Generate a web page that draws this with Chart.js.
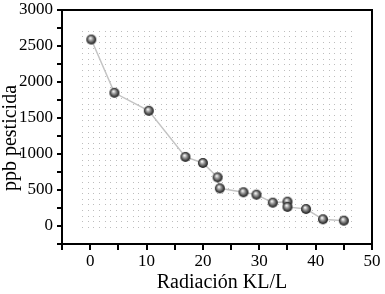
<!DOCTYPE html>
<html>
<head>
<meta charset="utf-8">
<script src="https://cdn.jsdelivr.net/npm/chart.js@4/dist/chart.umd.min.js"></script>
<style>
  html, body { margin: 0; padding: 0; background: #fff; }
  #wrap { width: 385px; height: 294px; }
</style>
</head>
<body>
<div id="wrap"><canvas id="c" width="385" height="294"></canvas></div>
<script>
// Valeurs
const radiacion = [0.2, 4.3, 10.4, 16.9, 20.0, 22.6, 23.0, 27.2, 29.5, 32.4, 35.0, 35.0, 38.3, 41.3, 45.0];
const pesticida = [2590, 1850, 1600, 960, 875, 676, 523, 468, 435, 324, 338, 265, 236, 93, 74];
const xTicks = [0, 10, 20, 30, 40, 50];
const yTicks = [0, 500, 1000, 1500, 2000, 2500, 3000];
const xTitle = 'Radiación KL/L';
const yTitle = 'ppb pesticida';

const serif = "'Liberation Serif', 'DejaVu Serif', serif";

// Bille grise pour les points
function makeSphere(r) {
    const cv = document.createElement('canvas');
    cv.width = cv.height = r * 2 + 2;
    const g = cv.getContext('2d');
    const c = r + 1;
    const grad = g.createRadialGradient(c - 1, c - 1.5, 0.5, c, c, r);
    grad.addColorStop(0, '#f0f0f0');
    grad.addColorStop(0.35, '#9a9a9a');
    grad.addColorStop(0.8, '#3a3a3a');
    grad.addColorStop(1, '#1a1a1a');
    g.fillStyle = grad;
    g.beginPath();
    g.arc(c, c, r, 0, Math.PI * 2);
    g.fill();
    return cv;
}
const sphere = makeSphere(5);

// Fond pointillé, cadre et titres des axes
const decor = {
    id: 'decor',
    beforeDatasetsDraw(chart) {
        const { ctx, scales: { x, y } } = chart;
        const x0 = x.getPixelForValue(-1.4), x1 = x.getPixelForValue(46.9);
        const y0 = y.getPixelForValue(2710), y1 = y.getPixelForValue(-70);
        ctx.save();
        ctx.fillStyle = '#bdbdbd';
        for (let py = y0; py <= y1 + 0.1; py += 5.6) {
            for (let px = x0; px <= x1 + 0.1; px += 5.6) {
                ctx.fillRect(Math.round(px), Math.round(py), 1, 1);
            }
        }
        ctx.restore();
    },
    afterDraw(chart) {
        const { ctx, chartArea: a } = chart;
        ctx.save();
        ctx.strokeStyle = '#000';
        ctx.lineWidth = 2;
        ctx.strokeRect(a.left, a.top, a.right - a.left, a.bottom - a.top);

        ctx.fillStyle = '#000';
        ctx.font = '20px ' + serif;
        ctx.textAlign = 'center';
        ctx.textBaseline = 'middle';
        ctx.fillText(xTitle, (a.left + a.right) / 2 + 5, 283);
        ctx.translate(11, 138);
        ctx.rotate(-Math.PI / 2);
        ctx.fillText(yTitle, 0, 0);
        ctx.restore();
    }
};

const ctx = document.getElementById('c').getContext('2d');
new Chart(ctx, {
    type: 'scatter',
    data: {
        datasets: [{
            data: radiacion.map((v, i) => ({ x: v, y: pesticida[i] })),
            showLine: true,
            borderColor: '#c4c4c4',
            borderWidth: 1.5,
            pointStyle: sphere,
            pointRadius: 5
        }]
    },
    options: {
        responsive: false,
        animation: false,
        layout: { padding: { top: 10, right: 13, left: 0, bottom: 0 } },
        plugins: { legend: { display: false }, tooltip: { enabled: false } },
        scales: {
            x: {
                type: 'linear',
                min: -5,
                max: 50,
                afterFit(s) { s.height = 50; s.paddingLeft = 0; s.paddingRight = 0; },
                border: { display: false },
                grid: { drawOnChartArea: false, tickLength: 6, color: '#000', lineWidth: 2 },
                ticks: {
                    stepSize: 5,
                    autoSkip: false,
                    maxRotation: 0,
                    color: '#000',
                    padding: 1,
                    font: { family: serif, size: 17 },
                    callback: v => xTicks.includes(v) ? String(v) : ''
                }
            },
            y: {
                min: -250,
                max: 3000,
                afterFit(s) { s.width = 62; s.paddingTop = 0; s.paddingBottom = 0; },
                border: { display: false },
                grid: { drawOnChartArea: false, tickLength: 5, color: '#000', lineWidth: 2 },
                ticks: {
                    stepSize: 250,
                    autoSkip: false,
                    color: '#000',
                    padding: 4,
                    font: { family: serif, size: 17 },
                    callback: v => yTicks.includes(v) ? String(v) : ''
                }
            }
        }
    },
    plugins: [decor]
});
</script>
</body>
</html>
